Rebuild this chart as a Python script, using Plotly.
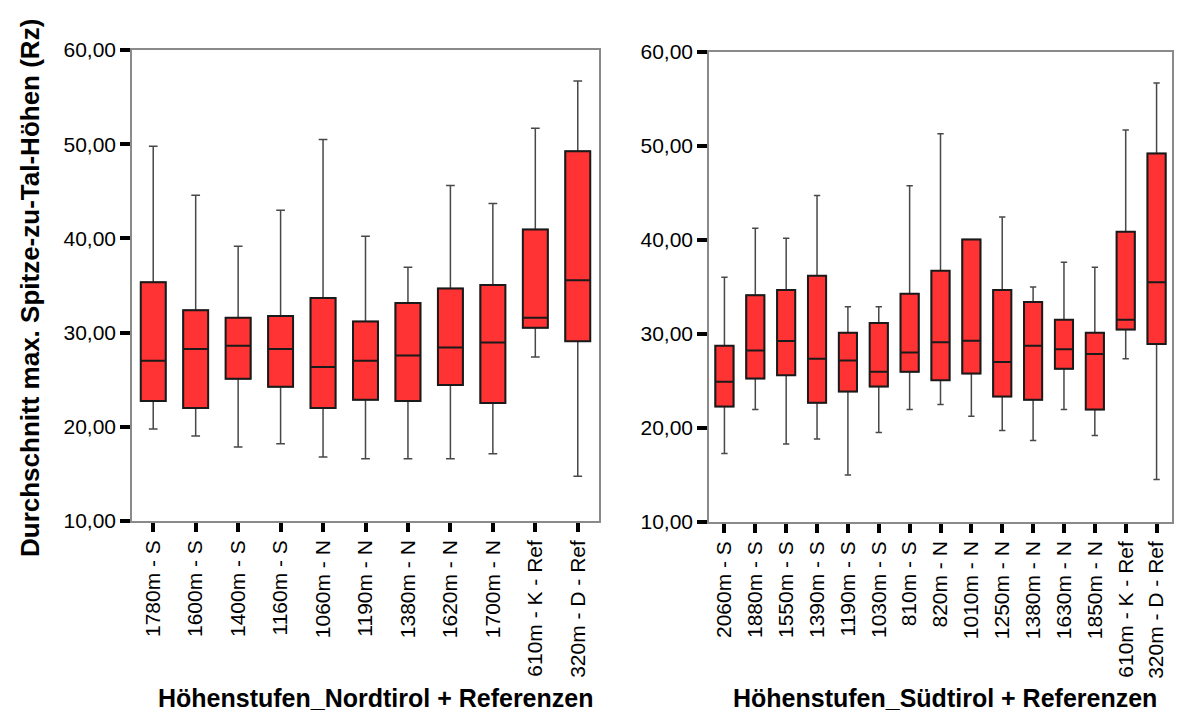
import plotly.graph_objects as go

# ---- Nordtirol + Referenzen ----
cats_n = ["1780m - S", "1600m - S", "1400m - S", "1160m - S", "1060m - N", "1190m - N",
          "1380m - N", "1620m - N", "1700m - N", "610m - K - Ref", "320m - D - Ref"]
low_n = [19.76, 19.02, 17.85, 18.20, 16.79, 16.61, 16.61, 16.61, 17.14, 27.40, 14.74]
q1_n = [22.73, 21.99, 25.10, 24.25, 21.99, 22.87, 22.73, 24.43, 22.52, 30.51, 29.09]
med_n = [27.01, 28.25, 28.60, 28.25, 26.34, 27.01, 27.57, 28.42, 28.95, 31.57, 35.57]
q3_n = [35.35, 32.38, 31.57, 31.75, 33.66, 31.18, 33.13, 34.68, 35.04, 40.94, 49.25]
high_n = [49.78, 44.58, 39.17, 42.99, 50.49, 40.23, 36.94, 45.61, 43.70, 51.69, 56.71]

# ---- Südtirol + Referenzen ----
cats_s = ["2060m - S", "1880m - S", "1550m - S", "1390m - S", "1190m - S", "1030m - S",
          "810m - S", "820m - N", "1010m - N", "1250m - N", "1380m - N", "1630m - N",
          "1850m - N", "610m - K - Ref", "320m - D - Ref"]
low_s = [17.28, 21.97, 18.31, 18.84, 15.01, 19.52, 21.97, 22.50, 21.26, 19.73, 18.66, 21.97, 19.20, 27.36, 14.51]
q1_s = [22.29, 25.27, 25.62, 22.68, 23.88, 24.42, 25.98, 25.09, 25.80, 23.35, 23.00, 26.30, 21.97, 30.49, 28.93]
med_s = [24.91, 28.25, 29.25, 27.36, 27.19, 25.98, 28.04, 29.11, 29.28, 27.01, 28.75, 28.39, 27.86, 31.52, 35.50]
q3_s = [28.75, 34.11, 34.68, 36.21, 30.13, 31.16, 34.29, 36.74, 40.05, 34.68, 33.40, 31.52, 30.13, 40.89, 49.20]
high_s = [36.03, 41.25, 40.18, 44.73, 32.90, 32.90, 45.76, 51.30, 40.05, 42.46, 35.00, 37.63, 37.10, 51.69, 56.70]

y_title = "Durchschnitt max. Spitze-zu-Tal-Höhen (Rz)"
x_title_n = "Höhenstufen_Nordtirol + Referenzen"
x_title_s = "Höhenstufen_Südtirol + Referenzen"

FONT = "Liberation Sans, Arial, sans-serif"
FILL = "#ff3333"
W, H = 1178, 715

fig = go.Figure()


def add_boxes(cats, low, q1, med, q3, high, xa, ya):
    # whiskers (thin grey)
    fig.add_trace(go.Box(
        x=cats, q1=q1, median=med, q3=q3, lowerfence=low, upperfence=high,
        xaxis=xa, yaxis=ya, fillcolor="rgba(0,0,0,0)",
        line=dict(color="#484848", width=1.5), whiskerwidth=0.35,
        showlegend=False, hoverinfo="skip", boxpoints=False))
    # boxes (red fill, black border)
    fig.add_trace(go.Box(
        x=cats, q1=q1, median=med, q3=q3, lowerfence=q1, upperfence=q3,
        xaxis=xa, yaxis=ya, fillcolor=FILL,
        line=dict(color="#1a1a1a", width=2), whiskerwidth=0,
        showlegend=False, boxpoints=False))


add_boxes(cats_n, low_n, q1_n, med_n, q3_n, high_n, "x", "y")
add_boxes(cats_s, low_s, q1_s, med_s, q3_s, high_s, "x2", "y2")

xcommon = dict(type="category", showline=True, linecolor="#8a8a8a", linewidth=1.5,
               mirror=True, ticks="outside", ticklen=9, tickwidth=4, tickcolor="black",
               tickangle=-90, tickfont=dict(size=21, color="black", family=FONT),
               showgrid=False, zeroline=False, automargin=False)
ycommon = dict(range=[10, 60], dtick=10, tickformat=".2f", showline=True,
               linecolor="#8a8a8a", linewidth=1.5, mirror=True, ticks="outside",
               ticklen=10, tickwidth=4, tickcolor="black",
               tickfont=dict(size=21, color="black", family=FONT),
               showgrid=False, zeroline=False, automargin=False)

fig.update_layout(
    template="none",
    width=W, height=H, autosize=False,
    margin=dict(l=0, r=0, t=0, b=0, pad=0),
    paper_bgcolor="white", plot_bgcolor="white",
    separators=",.",
    boxmode="overlay", boxgap=0.16,
    font=dict(family=FONT, color="black"),
    xaxis=dict(domain=[132 / W, 599 / W], anchor="y", **xcommon),
    yaxis=dict(domain=[1 - 521 / H, 1 - 50 / H], anchor="x", **ycommon),
    xaxis2=dict(domain=[709 / W, 1172 / W], anchor="y2", **xcommon),
    yaxis2=dict(domain=[1 - 522 / H, 1 - 52 / H], anchor="x2", **ycommon),
    annotations=[
        dict(text="<b>%s</b>" % y_title, x=30 / W, y=1 - 288 / H, xref="paper", yref="paper",
             textangle=-90, showarrow=False, xanchor="center", yanchor="middle",
             font=dict(size=26, family=FONT, color="black")),
        dict(text="<b>%s</b>" % x_title_n, x=375 / W, y=1 / H, xref="paper", yref="paper",
             showarrow=False, xanchor="center", yanchor="bottom",
             font=dict(size=25, family=FONT, color="black")),
        dict(text="<b>%s</b>" % x_title_s, x=945 / W, y=1 / H, xref="paper", yref="paper",
             showarrow=False, xanchor="center", yanchor="bottom",
             font=dict(size=25, family=FONT, color="black")),
    ],
)

fig.write_html("out.html")
